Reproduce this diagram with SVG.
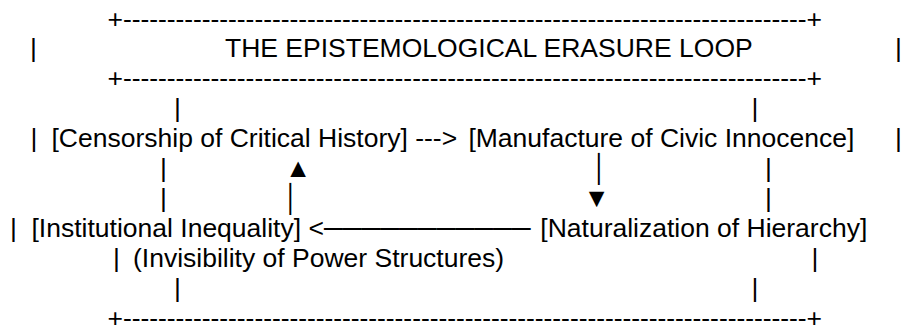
<svg xmlns="http://www.w3.org/2000/svg" width="915" height="333" viewBox="0 0 915 333">
<style>
text{font-family:"Liberation Sans",Arial,Helvetica,sans-serif;font-size:26.5px;fill:#000}
.c{text-anchor:middle}
</style>
<rect width="915" height="333" fill="#fff"/>
<g id="title">
<text x="107.5" y="27.5" textLength="714.5" lengthAdjust="spacing">+------------------------------------------------------------------------------+</text>
<text x="225" y="57.4">THE EPISTEMOLOGICAL ERASURE LOOP</text>
<text x="107.5" y="87.3" textLength="714.5" lengthAdjust="spacing">+------------------------------------------------------------------------------+</text>
</g>
<g id="frame">
<text class="c" x="33.5" y="57.4">|</text>
<text class="c" x="898.5" y="57.4">|</text>
<text class="c" x="177.5" y="117.2">|</text>
<text class="c" x="755" y="117.2">|</text>
<text class="c" x="34" y="147.1">|</text>
<text class="c" x="898.5" y="147.1">|</text>
<text class="c" x="163.5" y="177">|</text>
<text class="c" x="768.5" y="177">|</text>
<text class="c" x="163.5" y="206.9">|</text>
<text class="c" x="768.5" y="206.9">|</text>
<text class="c" x="13.5" y="236.8">|</text>
<text class="c" x="116.5" y="266.7">|</text>
<text class="c" x="815" y="266.7">|</text>
<text class="c" x="177.5" y="296.6">|</text>
<text class="c" x="755" y="296.6">|</text>
<text x="107.5" y="326.5" textLength="714.5" lengthAdjust="spacing">+------------------------------------------------------------------------------+</text>
</g>
<g id="node-censorship"><text x="51.5" y="147.1">[Censorship of Critical History]</text></g>
<g id="node-manufacture"><text x="468.4" y="147.1">[Manufacture of Civic Innocence]</text></g>
<g id="node-institutional"><text x="31.5" y="236.8">[Institutional Inequality]</text></g>
<g id="node-naturalization"><text x="540.3" y="236.8">[Naturalization of Hierarchy]</text></g>
<g id="label-invisibility"><text x="133" y="266.7">(Invisibility of Power Structures)</text></g>
<g id="connectors">
<text x="415.2" y="147.1">---&gt;</text>
<text class="c" x="600" y="177">│</text>
<text class="c" x="596.5" y="206.9">▼</text>
<text x="308.5" y="236.8">&lt;───────────</text>
<text class="c" x="291.5" y="206.9">│</text>
<text class="c" x="298" y="177">▲</text>
</g>
</svg>
